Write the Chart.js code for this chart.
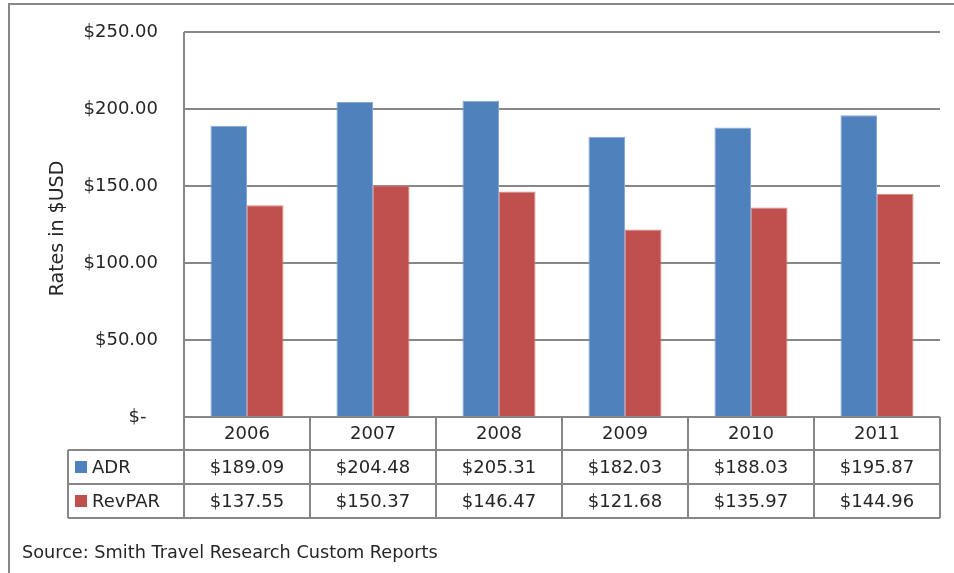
<!DOCTYPE html>
<html>
<head>
<meta charset="utf-8">
<script src="https://cdn.jsdelivr.net/npm/chart.js@4/dist/chart.umd.min.js"></script>
<style>
  html, body { margin: 0; padding: 0; background: #fff; }
  canvas { display: block; }
</style>
</head>
<body>
<canvas id="c" width="954" height="573"></canvas>
<script>
const years = ['2006', '2007', '2008', '2009', '2010', '2011'];
const adr = [189.09, 204.48, 205.31, 182.03, 188.03, 195.87];
const revpar = [137.55, 150.37, 146.47, 121.68, 135.97, 144.96];
const seriesNames = ['ADR', 'RevPAR'];
const seriesColors = ['#4F81BD', '#C0504D'];
const seriesEdges = ['#86a8d4', '#d98684'];
const yTitle = 'Rates in $USD';
const sourceText = 'Source: Smith Travel Research Custom Reports';

const FONT = '"DejaVu Sans", sans-serif';
const TEXT = '#262626';
const LINE = '#878787';

function money(v) {
  if (v === 0) return '$-  ';
  return '$' + v.toFixed(2);
}

const tablePlugin = {
  id: 'tablePlugin',
  beforeDraw(chart) {
    const ctx = chart.ctx;
    ctx.save();
    ctx.fillStyle = '#fff';
    ctx.fillRect(0, 0, chart.width, chart.height);
    ctx.strokeStyle = LINE;
    ctx.lineWidth = 2;
    ctx.beginPath();
    ctx.moveTo(9, chart.height);
    ctx.lineTo(9, 4);
    ctx.lineTo(chart.width, 4);
    ctx.stroke();
    ctx.restore();
  },
  afterDraw(chart) {
    const ctx = chart.ctx;
    const x = chart.scales.x;
    const area = chart.chartArea;
    const n = years.length;
    const step = (area.right - area.left) / n;
    const rowTop = area.bottom;
    const rowH = [33, 34, 34];
    const r1 = rowTop + rowH[0];
    const r2 = r1 + rowH[1];
    const r3 = r2 + rowH[2];
    const tableLeft = 68;

    ctx.save();
    ctx.strokeStyle = LINE;
    ctx.lineWidth = 2;
    ctx.beginPath();
    ctx.moveTo(area.left, rowTop); ctx.lineTo(area.right, rowTop);
    ctx.moveTo(tableLeft, r1); ctx.lineTo(area.right, r1);
    ctx.moveTo(tableLeft, r2); ctx.lineTo(area.right, r2);
    ctx.moveTo(tableLeft, r3); ctx.lineTo(area.right, r3);
    ctx.moveTo(tableLeft, r1); ctx.lineTo(tableLeft, r3);
    ctx.moveTo(area.left, area.top); ctx.lineTo(area.left, r3);
    for (let i = 1; i <= n; i++) {
      const xx = area.left + step * i;
      ctx.moveTo(xx, rowTop); ctx.lineTo(xx, r3);
    }
    ctx.stroke();

    ctx.fillStyle = TEXT;
    ctx.font = '18px ' + FONT;
    ctx.textAlign = 'center';
    ctx.textBaseline = 'middle';
    const rows = [adr, revpar];
    years.forEach((yr, i) => {
      const cx = x.getPixelForValue(i);
      ctx.fillText(yr, cx, (rowTop + r1) / 2 + 1);
      ctx.fillText(money(rows[0][i]), cx, (r1 + r2) / 2 + 1);
      ctx.fillText(money(rows[1][i]), cx, (r2 + r3) / 2 + 1);
    });

    const rowsY = [(r1 + r2) / 2, (r2 + r3) / 2];
    ctx.textAlign = 'left';
    seriesNames.forEach((nm, k) => {
      ctx.fillStyle = seriesColors[k];
      ctx.fillRect(75, rowsY[k] - 6, 12, 12);
      ctx.fillStyle = TEXT;
      ctx.fillText(nm, 92, rowsY[k] + 1);
    });

    ctx.save();
    ctx.translate(58, (area.top + area.bottom) / 2 + 4);
    ctx.rotate(-Math.PI / 2);
    ctx.textAlign = 'center';
    ctx.textBaseline = 'middle';
    ctx.font = '19px ' + FONT;
    ctx.fillText(yTitle, 0, 0);
    ctx.restore();

    ctx.textAlign = 'left';
    ctx.textBaseline = 'middle';
    ctx.font = '17.7px ' + FONT;
    ctx.fillText(sourceText, 22, 553);
    ctx.restore();
  }
};

new Chart(document.getElementById('c'), {
  type: 'bar',
  data: {
    labels: years,
    datasets: [
      { label: seriesNames[0], data: adr, backgroundColor: seriesColors[0], borderColor: seriesEdges[0], borderWidth: 1 },
      { label: seriesNames[1], data: revpar, backgroundColor: seriesColors[1], borderColor: seriesEdges[1], borderWidth: 1 }
    ]
  },
  options: {
    responsive: false,
    animation: false,
    devicePixelRatio: 1,
    layout: { padding: { top: 32, bottom: 156, left: 0, right: 14 } },
    datasets: { bar: { categoryPercentage: 0.58, barPercentage: 1.0 } },
    plugins: { legend: { display: false }, tooltip: { enabled: false }, title: { display: false } },
    scales: {
      x: {
        display: false,
        offset: true,
        grid: { display: false }
      },
      y: {
        min: 0, max: 250,
        afterFit(scale) {
          scale.width = 184;
          scale.paddingTop = 0;
          scale.paddingBottom = 0;
        },
        border: { display: false },
        grid: { color: LINE, lineWidth: 2, drawTicks: false },
        ticks: {
          stepSize: 50,
          padding: 26,
          color: TEXT,
          font: { family: FONT, size: 18 },
          callback: (v) => money(v)
        }
      }
    }
  },
  plugins: [tablePlugin]
});
</script>
</body>
</html>
